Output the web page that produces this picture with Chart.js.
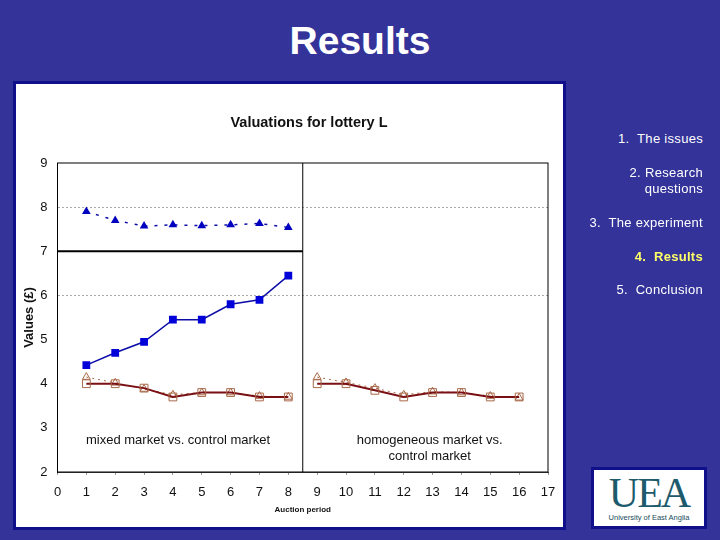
<!DOCTYPE html>
<html>
<head>
<meta charset="utf-8">
<script src="https://cdn.jsdelivr.net/npm/chart.js@4"></script>
<style>
  html, body { margin: 0; padding: 0; }
  body { width: 720px; height: 540px; background: #333399; position: relative; overflow: hidden; font-family: "Liberation Sans", Arial, sans-serif; }
  #heading { position: absolute; left: 0; width: 720px; top: 18px; text-align: center; color: #fff; font-size: 39px; line-height: 46px; font-weight: bold; }
  #panel { position: absolute; left: 13px; top: 81px; width: 547px; height: 443px; background: #fff; border: 3px solid #10108a; }
  #myChart { position: absolute; left: 0; top: 0; }
  .menu { position: absolute; right: 17px; color: #fff; font-size: 13px; line-height: 16px; text-align: right; white-space: pre; letter-spacing: 0.3px; }
  .menu.on { color: #ffff66; font-weight: bold; }
  #logo { position: absolute; left: 591px; top: 467px; width: 110px; height: 56px; background: #fff; border: 3px solid #10108a; text-align: center; color: #1d5a6c; overflow: hidden; }
  #logo .big { font-family: "Liberation Serif", serif; font-size: 42px; line-height: 38px; height: 38px; margin-top: 4px; letter-spacing: -2px; }
  #logo .small { font-size: 7.5px; line-height: 12px; color: #164a5a; }
</style>
</head>
<body>
<div id="heading">Results</div>
<div id="panel"></div>
<canvas id="myChart" width="618" height="540"></canvas>
<div class="menu" style="top:131px">1.  The issues</div>
<div class="menu" style="top:165px">2. Research
questions</div>
<div class="menu" style="top:215px">3.  The experiment</div>
<div class="menu on" style="top:249px">4.  Results</div>
<div class="menu" style="top:282px">5.  Conclusion</div>
<div id="logo"><div class="big">UEA</div><div class="small">University of East Anglia</div></div>

<script>
// periods on the x axis
const periodsMixed = [1, 2, 3, 4, 5, 6, 7, 8]
const periodsHomog = [9, 10, 11, 12, 13, 14, 15, 16]

// values
const mixedTriangle = [7.9, 7.7, 7.57, 7.6, 7.58, 7.6, 7.63, 7.54]
const mixedSquare = [4.42, 4.7, 4.95, 5.45, 5.45, 5.8, 5.9, 6.45]
const controlSquareA = [4, 4, 3.9, 3.7, 3.8, 3.8, 3.7, 3.7]
const controlTriangleA = [4.15, 4.02, 3.88, 3.75, 3.8, 3.8, 3.72, 3.7]
const controlSquareB = [4, 4, 3.85, 3.7, 3.8, 3.8, 3.7, 3.7]
const controlTriangleB = [4.15, 4.03, 3.9, 3.75, 3.82, 3.8, 3.72, 3.68]

const yTicks = [2, 3, 4, 5, 6, 7, 8, 9]
const dottedLevels = [8, 6]

function pairUp(xs, ys) {
    return xs.map((x, i) => ({ x: x, y: ys[i] }))
}

// text inside the plot, placed in data units
const plotNotes = {
    id: 'plotNotes',
    afterLayout(chart) {
        // the title sits over the plot's right half a little, not the box centre
        chart.titleBlock.left += 24
        chart.titleBlock.right += 24
    },
    afterDatasetsDraw(chart) {
        const { ctx, chartArea, scales } = chart
        ctx.save()
        ctx.strokeStyle = '#000'
        ctx.lineWidth = 1
        ctx.strokeRect(chartArea.left, chartArea.top, chartArea.width, chartArea.height)
        ctx.fillStyle = '#111'
        ctx.font = '13px "Liberation Sans"'
        ctx.textAlign = 'center'
        ctx.textBaseline = 'middle'
        ctx.fillText('mixed market vs. control market', scales.x.getPixelForValue(4.18), scales.y.getPixelForValue(2.72))
        ctx.fillText('homogeneous market vs.', scales.x.getPixelForValue(12.9), scales.y.getPixelForValue(2.72))
        ctx.fillText('control market', scales.x.getPixelForValue(12.9), scales.y.getPixelForValue(2.36))
        ctx.restore()
    }
}

const chart = new Chart(document.getElementById('myChart'), {
    type: 'line',
    data: {
        datasets: [
            { data: pairUp(periodsMixed, controlSquareA), borderColor: '#7a0f14', borderWidth: 2, pointStyle: 'rect', pointRadius: 5.5, pointBorderColor: '#a8694a', pointBackgroundColor: 'transparent', pointBorderWidth: 1 },
            { data: pairUp(periodsHomog, controlSquareB), borderColor: '#7a0f14', borderWidth: 2, pointStyle: 'rect', pointRadius: 5.5, pointBorderColor: '#a8694a', pointBackgroundColor: 'transparent', pointBorderWidth: 1 },
            { data: pairUp(periodsMixed, controlTriangleA), borderColor: '#a8694a', borderWidth: 1, borderDash: [2, 4], pointStyle: 'triangle', pointRadius: 4.5, pointBorderColor: '#a8694a', pointBackgroundColor: 'transparent', pointBorderWidth: 1 },
            { data: pairUp(periodsHomog, controlTriangleB), borderColor: '#a8694a', borderWidth: 1, borderDash: [2, 4], pointStyle: 'triangle', pointRadius: 4.5, pointBorderColor: '#a8694a', pointBackgroundColor: 'transparent', pointBorderWidth: 1 },
            { data: pairUp(periodsMixed, mixedSquare), borderColor: '#0c0ca8', borderWidth: 1.5, pointStyle: 'rect', pointRadius: 5.5, pointBorderColor: '#0000d8', pointBackgroundColor: '#0000d8', pointBorderWidth: 0 },
            { data: pairUp(periodsMixed, mixedTriangle), borderColor: '#0c0ca8', borderWidth: 1.5, borderDash: [3, 7], pointStyle: 'triangle', pointRadius: 5, pointBorderColor: '#0000c0', pointBackgroundColor: '#0000c0', pointBorderWidth: 0 },
            // divider between the two markets
            { data: [{ x: 8.5, y: 2 }, { x: 8.5, y: 9 }], borderColor: '#000', borderWidth: 1, pointRadius: 0 },
            { data: [{ x: 0, y: 7 }, { x: 8.5, y: 7 }], borderColor: '#000', borderWidth: 2, pointRadius: 0 }
        ]
    },
    options: {
        responsive: false,
        animation: false,
        layout: { padding: { left: 22, right: 70, top: 0, bottom: 25 } },
        plugins: {
            legend: { display: false },
            tooltip: { enabled: false },
            title: {
                display: true,
                text: 'Valuations for lottery L',
                color: '#111',
                font: { family: '"Liberation Sans"', size: 14.5, weight: 'bold' },
                padding: { top: 114.5, bottom: 31.1 }
            }
        },
        scales: {
            x: {
                type: 'linear',
                min: 0,
                max: 17,
                afterFit(scale) { scale.height = 43 },
                ticks: { stepSize: 1, autoSkip: false, maxRotation: 0, padding: 10, color: '#111', font: { family: '"Liberation Sans"', size: 13 } },
                grid: { drawOnChartArea: false, tickLength: 3, color: '#999' },
                border: { color: '#444' },
                title: { display: true, text: 'Auction period', color: '#111', padding: 0, font: { family: '"Liberation Sans"', size: 8, weight: 'bold' } }
            },
            y: {
                min: 2,
                max: 9,
                afterFit(scale) { scale.width = 35.5 },
                afterBuildTicks(scale) { scale.ticks = yTicks.map(v => ({ value: v })) },
                ticks: { padding: 10, color: '#111', font: { family: '"Liberation Sans"', size: 13 } },
                grid: {
                    drawTicks: false,
                    color: c => dottedLevels.includes(c.tick.value) ? '#aaa' : 'transparent'
                },
                border: { color: '#000', dash: [2, 2] },
                title: { display: true, text: 'Values (£)', color: '#111', padding: 0, font: { family: '"Liberation Sans"', size: 13, weight: 'bold' } }
            }
        }
    },
    plugins: [plotNotes]
})
</script>
</body>
</html>
